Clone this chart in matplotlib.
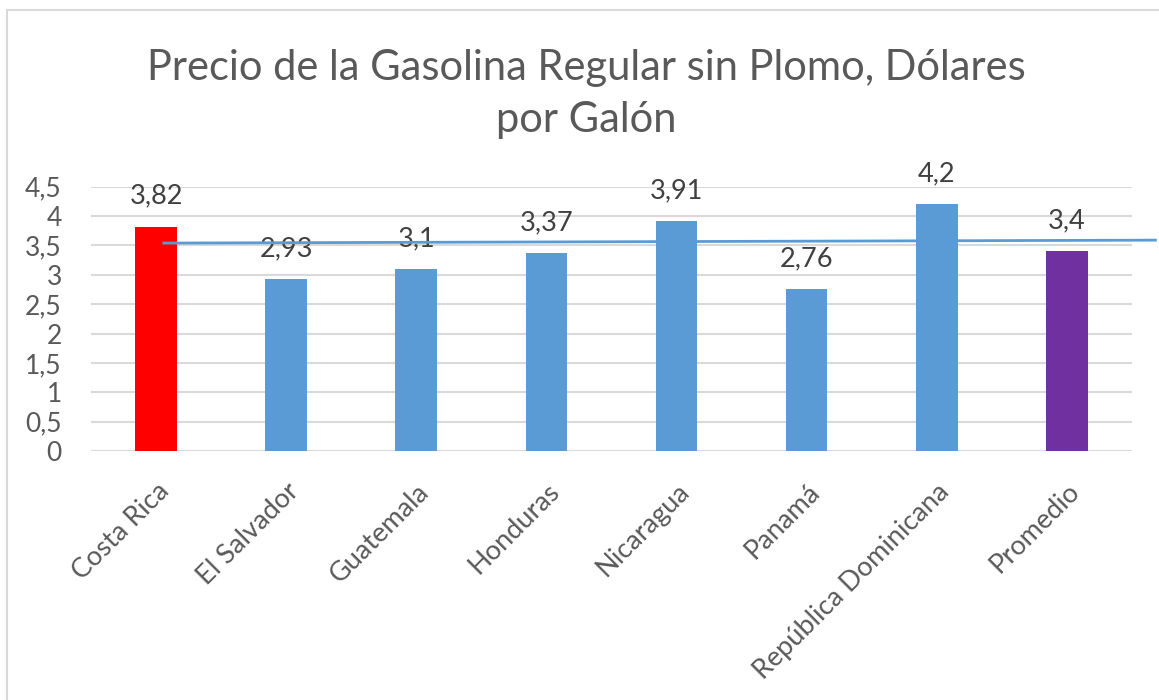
import matplotlib.pyplot as plt
from matplotlib.patches import Rectangle

plt.rcParams["font.family"] = ["Lato", "DejaVu Sans"]

# datos del gráfico
paises = [
    "Costa Rica",
    "El Salvador",
    "Guatemala",
    "Honduras",
    "Nicaragua",
    "Panamá",
    "República Dominicana",
    "Promedio",
]
precios = [3.82, 2.93, 3.1, 3.37, 3.91, 2.76, 4.2, 3.4]
etiquetas = ["3,82", "2,93", "3,1", "3,37", "3,91", "2,76", "4,2", "3,4"]
colores = ["#FF0000"] + ["#5B9BD5"] * 6 + ["#7030A0"]
yticks = [0, 0.5, 1, 1.5, 2, 2.5, 3, 3.5, 4, 4.5]
ytick_labels = ["0", "0,5", "1", "1,5", "2", "2,5", "3", "3,5", "4", "4,5"]

# línea dibujada a mano sobre el gráfico (aprox.)
linea_x = [0.06, 7.68]
linea_y = [3.54, 3.59]

gris = "#595959"

fig = plt.figure(figsize=(11.59, 7.0), dpi=100)
ax = fig.add_axes([0.0785, 0.3557, 0.8982, 0.3776])

# borde del área del gráfico
fig.patches.append(
    Rectangle((7 / 1159, -0.1), 1.2, 1.1 - 10 / 700,
              transform=fig.transFigure, fill=False,
              edgecolor="#D9D9D9", linewidth=1.5)
)

x = list(range(len(paises)))
ax.bar(x, precios, width=0.32, color=colores, zorder=2)

for i, (v, t) in enumerate(zip(precios, etiquetas)):
    ax.annotate(t, (i, v), xytext=(0, 13), textcoords="offset points",
                ha="center", va="bottom", fontsize=19.5, color="#404040")

ax.plot(linea_x, linea_y, color="#5B9BD5", linewidth=2, clip_on=False, zorder=3)

ax.set_xlim(-0.5, len(paises) - 0.5)
ax.set_ylim(0, 4.5)
ax.set_yticks(yticks)
ax.set_yticklabels(ytick_labels)
ax.set_xticks(x)
ax.set_xticklabels(paises, rotation=45, ha="right", rotation_mode="anchor")
ax.tick_params(axis="both", length=0, labelsize=19, colors=gris)
ax.tick_params(axis="x", pad=20, labelsize=19.5)
ax.tick_params(axis="y", pad=21)

ax.grid(axis="y", color="#D9D9D9", linewidth=1.5, zorder=0)
ax.set_axisbelow(True)
for s in ax.spines.values():
    s.set_visible(False)

fig.text(0.506, 0.866, "Precio de la Gasolina Regular sin Plomo, Dólares\npor Galón",
         ha="center", va="center", fontsize=30, color=gris, linespacing=1.45)

plt.savefig("out.png", dpi=100)
plt.close(fig)
